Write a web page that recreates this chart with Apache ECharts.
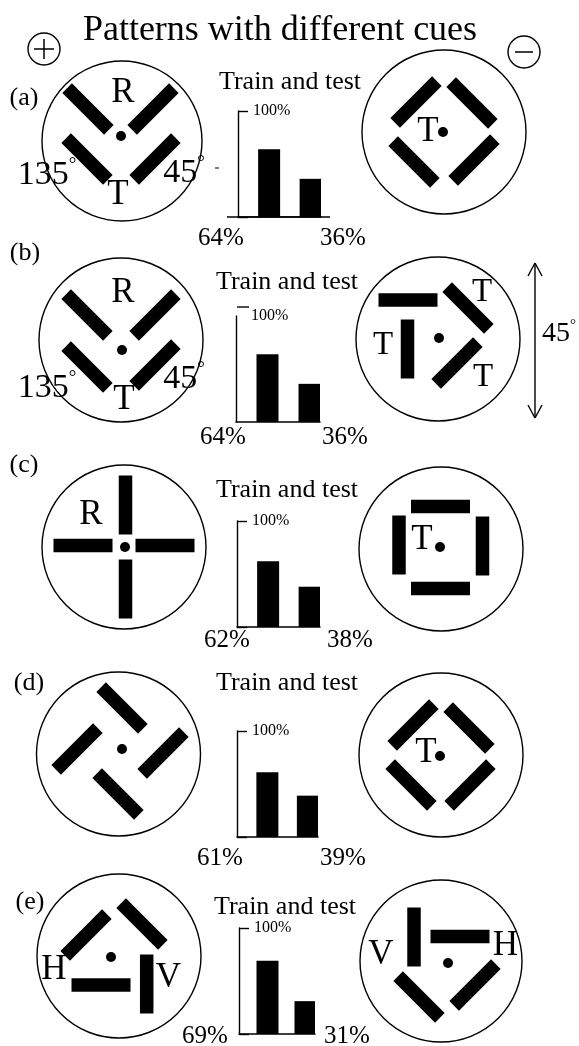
<!DOCTYPE html>
<html>
<head>
<meta charset="utf-8">
<script src="https://cdn.jsdelivr.net/npm/echarts@6/dist/echarts.min.js"></script>
<style>
html,body{margin:0;padding:0;background:#fff;}
#main{width:579px;height:1046px;}
</style>
</head>
<body>
<div id="main"></div>
<script>
// ---- data ----
const title = 'Patterns with different cues';
const panelLabels = ['(a)', '(b)', '(c)', '(d)', '(e)'];
const categories = ['', '+', '', '\u2212'];
const plusValues = [64, 64, 62, 61, 69];
const minusValues = [36, 36, 38, 39, 31];
const yMax = 100;
const yTickLabel = '100%';
const chartTitle = 'Train and test';

// ---- layout ----
const FONT = '"Liberation Serif", "Times New Roman", serif';
const L = 59, T = 13.5;
const gridLayout = [
  {left: 238, width: 83, base: 217},
  {left: 236, width: 84, base: 422},
  {left: 237, width: 83, base: 627},
  {left: 237, width: 81, base: 837},
  {left: 239, width: 76, base: 1034}
];
const H = 106;
const titlePos = [[290, 82], [287, 282], [287, 490], [287, 683], [285, 907]];
const labelPos = [[24, 98], [25, 253], [24, 465], [29, 683], [30, 902]];
const pctPos = [
  [[221, 238], [343, 238]],
  [[223, 437], [345, 437]],
  [[227, 640], [350, 640]],
  [[220, 858], [343, 858]],
  [[205, 1036], [347, 1036]]
];

const g = [];
function circ(cx, cy, r, lw) { g.push({type: 'circle', silent: true, shape: {cx, cy, r}, style: {fill: 'none', stroke: '#000', lineWidth: lw || 1.4}}); }
function dot(cx, cy, r) { g.push({type: 'circle', silent: true, shape: {cx, cy, r: r || 5}, style: {fill: '#000'}}); }
const ANG = {ur: 45, dr: -45, h: 0, v: 90};
function bar(cx, cy, a) { g.push({type: 'rect', silent: true, x: cx, y: cy, rotation: ANG[a] * Math.PI / 180, shape: {x: -L / 2, y: -T / 2, width: L, height: T}, style: {fill: '#000'}}); }
function txt(x, y, s, size, align) { g.push({type: 'text', silent: true, x, y, style: {text: s, fontSize: size, fontFamily: FONT, fill: '#000', align: align || 'center', verticalAlign: 'middle'}}); }
function deg(x, y, num, size, align) {
  g.push({type: 'text', silent: true, x, y, style: {
    text: '{n|' + num + '}{d|\u00b0}', fontFamily: FONT, fill: '#000', align: align || 'center', verticalAlign: 'middle',
    rich: {
      n: {fontSize: size, fontFamily: FONT, fill: '#000', lineHeight: size * 1.15},
      d: {fontSize: Math.round(size * 0.55), fontFamily: FONT, fill: '#000', verticalAlign: 'top', lineHeight: size * 0.7}
    }
  }});
}
function line(x1, y1, x2, y2, lw) { g.push({type: 'line', silent: true, shape: {x1, y1, x2, y2}, style: {stroke: '#000', lineWidth: lw || 1.4}}); }

// title, +/- markers
txt(280, 31, title, 36);
circ(44, 49, 16, 1.4); line(34, 49, 54, 49, 1.5); line(44, 39, 44, 59, 1.5);
circ(524, 52, 16, 1.4); line(515, 52, 533, 52, 1.5);

// panel labels, chart titles, percentages
for (let i = 0; i < 5; i++) {
  txt(labelPos[i][0], labelPos[i][1], panelLabels[i], 26);
  txt(titlePos[i][0], titlePos[i][1], chartTitle, 26);
  txt(pctPos[i][0][0], pctPos[i][0][1], plusValues[i] + '%', 25);
  txt(pctPos[i][1][0], pctPos[i][1][1], minusValues[i] + '%', 25);
}

// (a)
circ(122, 141, 80); dot(121, 136);
bar(88, 109, 'dr'); bar(153, 109, 'ur'); bar(87, 159, 'dr'); bar(155, 159, 'ur');
txt(123, 93, 'R', 35); txt(118, 195, 'T', 35);
deg(47, 175, '135', 34); deg(184, 173, '45', 34);
circ(444, 132, 82); dot(443, 132);
bar(416, 102, 'ur'); bar(472, 103, 'dr'); bar(414, 162, 'dr'); bar(474, 160, 'ur');
txt(428, 132, 'T', 35);
line(227, 217, 330, 217, 1.5);
line(215, 168, 219, 168, 1);

// (b)
circ(121, 340, 82); dot(122, 350);
bar(87, 315, 'dr'); bar(155, 315, 'ur'); bar(87, 367, 'dr'); bar(155, 365, 'ur');
txt(123, 293, 'R', 35); txt(124, 400, 'T', 35);
deg(47, 388, '135', 34); deg(184, 379, '45', 34);
circ(438, 339, 82); dot(439, 338);
bar(408, 300, 'h'); bar(407.5, 349, 'v'); bar(468, 308, 'dr'); bar(457, 363, 'ur');
txt(482, 292, 'T', 33); txt(383, 345, 'T', 33); txt(483, 377, 'T', 33);
line(535, 263, 535, 418, 1.4);
line(535, 263, 528, 276, 1.4); line(535, 263, 542, 276, 1.4);
line(535, 418, 528, 405, 1.4); line(535, 418, 542, 405, 1.4);
deg(542, 334, '45', 28, 'left');
line(237, 307, 249, 307, 1.4);

// (c)
circ(124, 547, 82); dot(125, 547);
bar(125.5, 505, 'v'); bar(125.5, 589, 'v'); bar(83, 545.5, 'h'); bar(165, 545.5, 'h');
txt(91, 515, 'R', 35);
circ(441, 549, 82); dot(440, 547);
bar(440.5, 506.5, 'h'); bar(440.5, 588.5, 'h'); bar(399, 545, 'v'); bar(482.5, 546, 'v');
txt(422, 540, 'T', 35);

// (d)
circ(118.5, 754, 82); dot(122, 749);
bar(122, 708, 'dr'); bar(77, 749, 'ur'); bar(163, 753, 'ur'); bar(118, 794, 'dr');
circ(441, 755, 82); dot(440, 756);
bar(413, 725, 'ur'); bar(469, 728, 'dr'); bar(411, 785, 'dr'); bar(470, 785, 'ur');
txt(426, 753, 'T', 35);

// (e)
circ(119, 956, 82); dot(111, 957);
bar(86, 935, 'ur'); bar(142, 924, 'dr'); bar(101, 985, 'h'); bar(146.7, 984, 'v');
txt(54, 970, 'H', 35); txt(168.5, 978, 'V', 35);
circ(441, 961, 81); dot(448, 963);
bar(414, 937, 'v'); bar(460, 936.5, 'h'); bar(419, 997, 'dr'); bar(475, 985, 'ur');
txt(381, 955, 'V', 35); txt(505.5, 946, 'H', 35);

// ---- charts ----
const grids = [], xAxes = [], yAxes = [], series = [];
for (let i = 0; i < 5; i++) {
  const gl = gridLayout[i];
  grids.push({left: gl.left, top: gl.base - H, width: gl.width, height: H, containLabel: false, outerBoundsMode: 'none'});
  xAxes.push({
    type: 'category', gridIndex: i, data: categories,
    axisLine: {show: true, lineStyle: {color: '#000', width: 1.5}},
    axisTick: {show: false}, axisLabel: {show: false}, splitLine: {show: false}
  });
  yAxes.push({
    type: 'value', gridIndex: i, min: 0, max: yMax, interval: yMax,
    axisLine: {show: true, lineStyle: {color: '#000', width: 1.4}},
    axisTick: {show: i !== 1, inside: true, length: 10, lineStyle: {color: '#000', width: 1.4}},
    axisLabel: {
      show: true, inside: true, margin: 15, color: '#000', fontSize: 16, fontFamily: FONT,
      formatter: v => (v === yMax ? yTickLabel : '')
    },
    splitLine: {show: false}
  });
  series.push({
    type: 'bar', xAxisIndex: i, yAxisIndex: i, barWidth: 22,
    data: [null, plusValues[i], null, minusValues[i]],
    itemStyle: {color: '#000'}, silent: true
  });
}

const chart = echarts.init(document.getElementById('main'), null, {renderer: 'canvas'});
chart.setOption({
  backgroundColor: '#fff',
  animation: false,
  grid: grids, xAxis: xAxes, yAxis: yAxes, series: series,
  graphic: {elements: g}
});
</script>
</body>
</html>
